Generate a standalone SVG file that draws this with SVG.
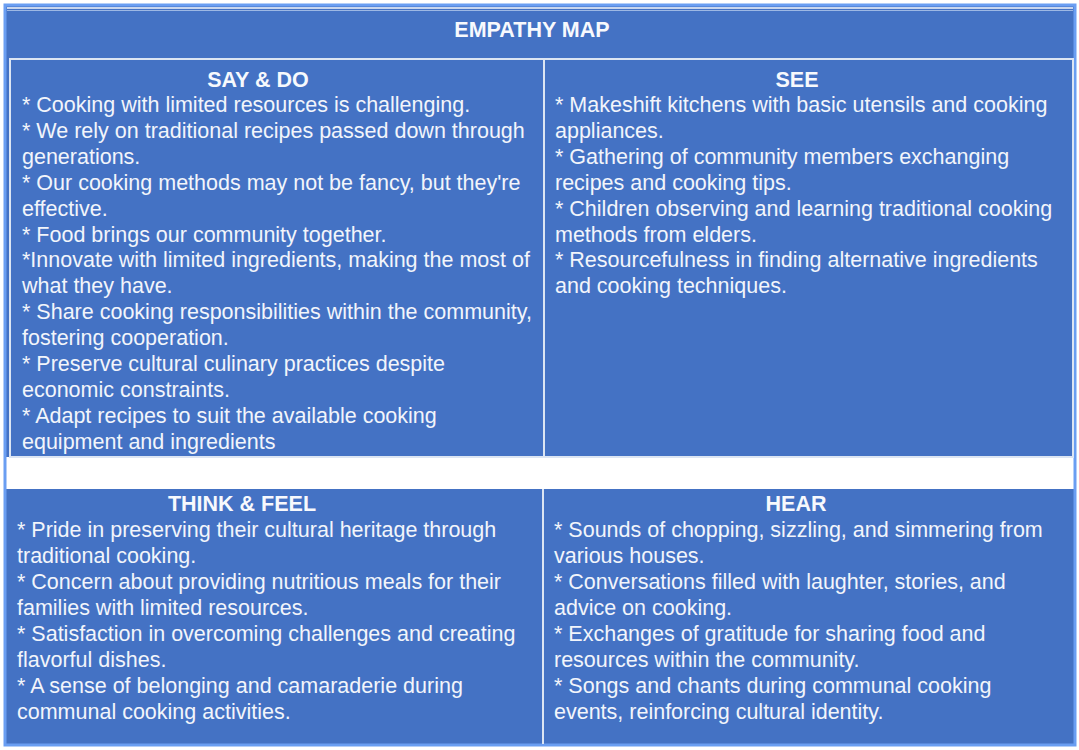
<svg xmlns="http://www.w3.org/2000/svg" width="1079" height="750" viewBox="0 0 1079 750">
  <style>
    .body { font-family: "Liberation Sans", Arial, sans-serif; font-size: 21.5px; fill: #F2F5FB; }
    .head { font-family: "Liberation Sans", Arial, sans-serif; font-size: 21.5px; font-weight: bold; fill: #F7F9FD; text-anchor: middle; }
    .title { font-family: "Liberation Sans", Arial, sans-serif; font-size: 21.5px; font-weight: bold; fill: #F7F9FD; text-anchor: middle; }
    .rule { stroke: #DCE5F3; stroke-width: 2; fill: none; }
    .edge { stroke: #6A9EF2; stroke-width: 3; fill: none; }
  </style>

  <!-- table background -->
  <rect x="0" y="0" width="1079" height="750" fill="#FFFFFF"/>
  <rect x="5" y="5" width="1070" height="740" fill="#4472C4"/>

  <g id="frame">
    <!-- white band between the two rows -->
    <rect x="6" y="457" width="1068" height="32" fill="#FFFFFF"/>
    <!-- outer edge -->
    <rect class="edge" x="5" y="5" width="1070" height="740"/>
    <line x1="7" y1="8" x2="1073" y2="8" stroke="#F4F7FC" stroke-width="1.5"/>
    <line x1="7" y1="10.5" x2="1073" y2="10.5" stroke="#9DB8E4" stroke-width="1"/>
  </g>

  <g id="header">
    <text class="title" x="532" y="36.5">EMPATHY MAP</text>
  </g>

  <g id="say-do">
    <rect class="rule" x="10" y="59" width="534" height="398"/>
    <text class="head" x="258" y="86.5">SAY &amp; DO</text>
    <text class="body">
      <tspan x="22" y="111.5">* Cooking with limited resources is challenging.</tspan>
      <tspan x="22" y="137.5">* We rely on traditional recipes passed down through</tspan>
      <tspan x="22" y="163.5">generations.</tspan>
      <tspan x="22" y="189.5">* Our cooking methods may not be fancy, but they're</tspan>
      <tspan x="22" y="215.5">effective.</tspan>
      <tspan x="22" y="241.5">* Food brings our community together.</tspan>
      <tspan x="22" y="266.5">*Innovate with limited ingredients, making the most of</tspan>
      <tspan x="22" y="292.5">what they have.</tspan>
      <tspan x="22" y="318.5">* Share cooking responsibilities within the community,</tspan>
      <tspan x="22" y="344.5">fostering cooperation.</tspan>
      <tspan x="22" y="370.5">* Preserve cultural culinary practices despite</tspan>
      <tspan x="22" y="396.5">economic constraints.</tspan>
      <tspan x="22" y="422.5">* Adapt recipes to suit the available cooking</tspan>
      <tspan x="22" y="448.5">equipment and ingredients</tspan>
    </text>
  </g>

  <g id="see">
    <rect class="rule" x="544" y="59" width="529" height="398"/>
    <text class="head" x="797" y="86.5">SEE</text>
    <text class="body">
      <tspan x="555" y="111.5">* Makeshift kitchens with basic utensils and cooking</tspan>
      <tspan x="555" y="137.5">appliances.</tspan>
      <tspan x="555" y="163.5">* Gathering of community members exchanging</tspan>
      <tspan x="555" y="189.5">recipes and cooking tips.</tspan>
      <tspan x="555" y="215.5">* Children observing and learning traditional cooking</tspan>
      <tspan x="555" y="241.5">methods from elders.</tspan>
      <tspan x="555" y="266.5">* Resourcefulness in finding alternative ingredients</tspan>
      <tspan x="555" y="292.5">and cooking techniques.</tspan>
    </text>
  </g>

  <g id="think-feel">
    <text class="head" x="242" y="510.5">THINK &amp; FEEL</text>
    <text class="body">
      <tspan x="17" y="536.5">* Pride in preserving their cultural heritage through</tspan>
      <tspan x="17" y="562.5">traditional cooking.</tspan>
      <tspan x="17" y="588.5">* Concern about providing nutritious meals for their</tspan>
      <tspan x="17" y="614.5">families with limited resources.</tspan>
      <tspan x="17" y="640.5">* Satisfaction in overcoming challenges and creating</tspan>
      <tspan x="17" y="666.5">flavorful dishes.</tspan>
      <tspan x="17" y="692.5">* A sense of belonging and camaraderie during</tspan>
      <tspan x="17" y="718.5">communal cooking activities.</tspan>
    </text>
  </g>

  <g id="hear">
    <line class="rule" x1="543" y1="489" x2="543" y2="744"/>
    <text class="head" x="796" y="510.5">HEAR</text>
    <text class="body">
      <tspan x="554" y="536.5">* Sounds of chopping, sizzling, and simmering from</tspan>
      <tspan x="554" y="562.5">various houses.</tspan>
      <tspan x="554" y="588.5">* Conversations filled with laughter, stories, and</tspan>
      <tspan x="554" y="614.5">advice on cooking.</tspan>
      <tspan x="554" y="640.5">* Exchanges of gratitude for sharing food and</tspan>
      <tspan x="554" y="666.5">resources within the community.</tspan>
      <tspan x="554" y="692.5">* Songs and chants during communal cooking</tspan>
      <tspan x="554" y="718.5">events, reinforcing cultural identity.</tspan>
    </text>
  </g>
</svg>
